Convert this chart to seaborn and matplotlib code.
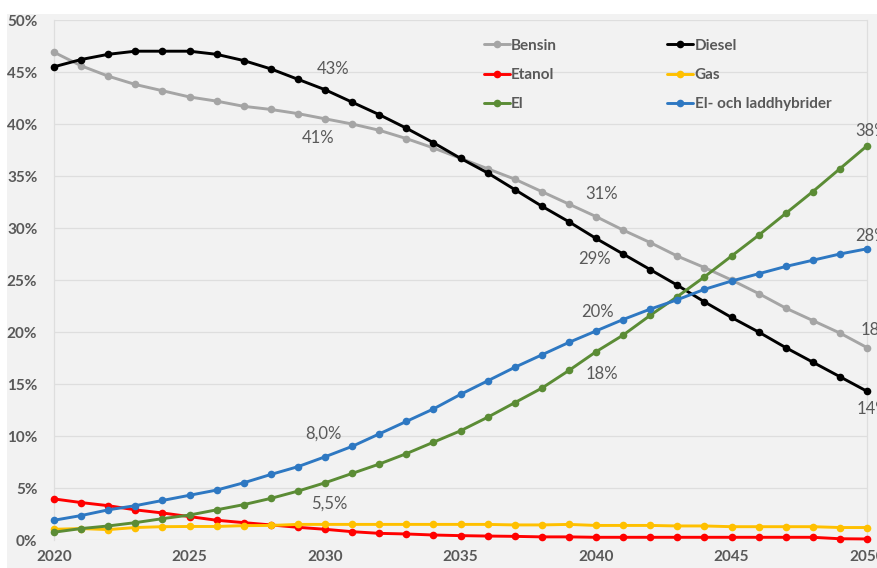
import matplotlib
matplotlib.use("Agg")
import matplotlib.pyplot as plt
import matplotlib.patches as mpatches
from matplotlib.ticker import FuncFormatter, MultipleLocator
import seaborn as sns
import pandas as pd

years = list(range(2020, 2051))

bensin = [46.9, 45.6, 44.6, 43.8, 43.2, 42.6, 42.2, 41.7, 41.4, 41.0,
          40.5, 40.0, 39.4, 38.6, 37.7, 36.7, 35.7, 34.7, 33.5, 32.3,
          31.1, 29.8, 28.6, 27.3, 26.2, 25.0, 23.7, 22.3, 21.1, 19.9, 18.5]
diesel = [45.5, 46.2, 46.7, 47.0, 47.0, 47.0, 46.7, 46.1, 45.3, 44.3,
          43.3, 42.1, 40.9, 39.6, 38.2, 36.7, 35.3, 33.7, 32.1, 30.6,
          29.0, 27.5, 26.0, 24.5, 22.9, 21.4, 20.0, 18.5, 17.1, 15.7, 14.3]
etanol = [3.95, 3.6, 3.3, 2.9, 2.6, 2.25, 1.9, 1.67, 1.45, 1.22,
          1.03, 0.8, 0.64, 0.58, 0.48, 0.42, 0.38, 0.35, 0.3, 0.3,
          0.26, 0.26, 0.26, 0.26, 0.26, 0.26, 0.26, 0.26, 0.26, 0.12, 0.1]
gas = [1.03, 1.1, 1.0, 1.2, 1.28, 1.3, 1.3, 1.38, 1.4, 1.5,
       1.5, 1.5, 1.5, 1.5, 1.5, 1.5, 1.5, 1.45, 1.45, 1.5,
       1.4, 1.4, 1.4, 1.35, 1.35, 1.28, 1.28, 1.28, 1.28, 1.2, 1.2]
el = [0.75, 1.1, 1.35, 1.67, 2.05, 2.4, 2.9, 3.4, 4.0, 4.7,
      5.5, 6.4, 7.3, 8.3, 9.4, 10.5, 11.8, 13.2, 14.6, 16.3,
      18.1, 19.7, 21.6, 23.4, 25.3, 27.3, 29.3, 31.4, 33.5, 35.7, 37.9]
hybrid = [1.9, 2.35, 2.9, 3.3, 3.8, 4.3, 4.8, 5.5, 6.3, 7.05,
          8.0, 9.0, 10.2, 11.4, 12.6, 14.0, 15.3, 16.6, 17.8, 19.0,
          20.1, 21.2, 22.2, 23.1, 24.1, 24.9, 25.6, 26.3, 26.9, 27.5, 28.0]

series_names = ["Bensin", "Diesel", "Etanol", "Gas", "El", "El- och laddhybrider"]
series_values = [bensin, diesel, etanol, gas, el, hybrid]
colors = ["#a5a5a5", "#000000", "#ff0000", "#ffc000", "#5b8c35", "#2e78c2"]

# Data labels: (series, year, text, dx_pt, dy_pt)
label_series = ["Diesel", "Bensin", "Bensin", "Diesel", "El", "El- och laddhybrider",
                "El- och laddhybrider", "El", "Bensin", "Diesel",
                "El- och laddhybrider", "El"]
label_years = [2030, 2030, 2040, 2040, 2050, 2050, 2040, 2040, 2050, 2050, 2030, 2030]
label_texts = ["43%", "41%", "31%", "29%", "38%", "28%", "20%", "18%", "18%", "14%",
               "8,0%", "5,5%"]
label_offsets = [(6, 15), (-5, -14), (4, 16), (-1, -15), (3, 11), (3, 9),
                 (1, 14), (4, -16), (7, 13), (4, -13), (-1, 17), (3, -15)]

rows = []
for name, vals in zip(series_names, series_values):
    for y, v in zip(years, vals):
        rows.append({"År": y, "Andel": v, "Drivmedel": name})
df = pd.DataFrame(rows)

sns.set_theme(style="white")
plt.rcParams["font.family"] = ["Lato", "DejaVu Sans"]

W, H = 878, 568
fig = plt.figure(figsize=(W / 100, H / 100), dpi=100, facecolor="white")
fig.patches.append(mpatches.Rectangle((7 / W, 0), 1, (H - 14) / H,
                                      transform=fig.transFigure,
                                      facecolor="#f2f2f2", edgecolor="none", zorder=-10))
ax = fig.add_axes([54 / W, (H - 540) / H, (867 - 54) / W, (540 - 20) / H])
ax.set_facecolor("#f2f2f2")

sns.lineplot(data=df, x="År", y="Andel", hue="Drivmedel", hue_order=series_names,
             palette=colors, marker="o", markersize=5.5, markeredgewidth=0,
             linewidth=2.1, ax=ax, legend=True)
for ln in ax.lines:
    ln.set_clip_on(False)
    ln.set_zorder(3)

ax.set_xlim(2020, 2050)
ax.set_ylim(0, 50)
ax.xaxis.set_major_locator(MultipleLocator(5))
ax.yaxis.set_major_locator(MultipleLocator(5))
ax.yaxis.set_major_formatter(FuncFormatter(lambda v, p: f"{v:.0f}%"))
ax.grid(axis="y", color="#dedede", linewidth=0.9)
ax.set_axisbelow(True)
for s in ["top", "bottom"]:
    ax.spines[s].set_visible(False)
for s in ["left", "right"]:
    ax.spines[s].set_color("#dedede")
    ax.spines[s].set_linewidth(0.9)
    ax.spines[s].set_zorder(0.5)
ax.tick_params(axis="both", length=0, labelsize=11, labelcolor="#595959")
ax.tick_params(axis="y", pad=12)
ax.tick_params(axis="x", pad=7)
for t in ax.get_xticklabels() + ax.get_yticklabels():
    t.set_fontweight("bold")
ax.set_xlabel("")
ax.set_ylabel("")

lookup = dict(zip(series_names, series_values))
for s, yr, txt, (dx, dy) in zip(label_series, label_years, label_texts, label_offsets):
    val = lookup[s][years.index(yr)]
    ax.annotate(txt, xy=(yr, val), xytext=(dx, dy), textcoords="offset points",
                ha="center", va="center", fontsize=12, color="#595959",
                annotation_clip=False)

handles, labels = ax.get_legend_handles_labels()
hmap = dict(zip(labels, handles))
order = ["Bensin", "Etanol", "El", "Diesel", "Gas", "El- och laddhybrider"]
leg = ax.legend([hmap[o] for o in order], order, ncol=2, frameon=False,
                loc="upper left", bbox_to_anchor=(470 / W, (H - 25) / H),
                bbox_transform=fig.transFigure, handlelength=1.7,
                handletextpad=0.1, columnspacing=7.2, labelspacing=1.0,
                fontsize=11)
for t in leg.get_texts():
    t.set_color("#595959")
    t.set_fontweight("bold")

fig.savefig("out.png", dpi=100, facecolor=fig.get_facecolor())
